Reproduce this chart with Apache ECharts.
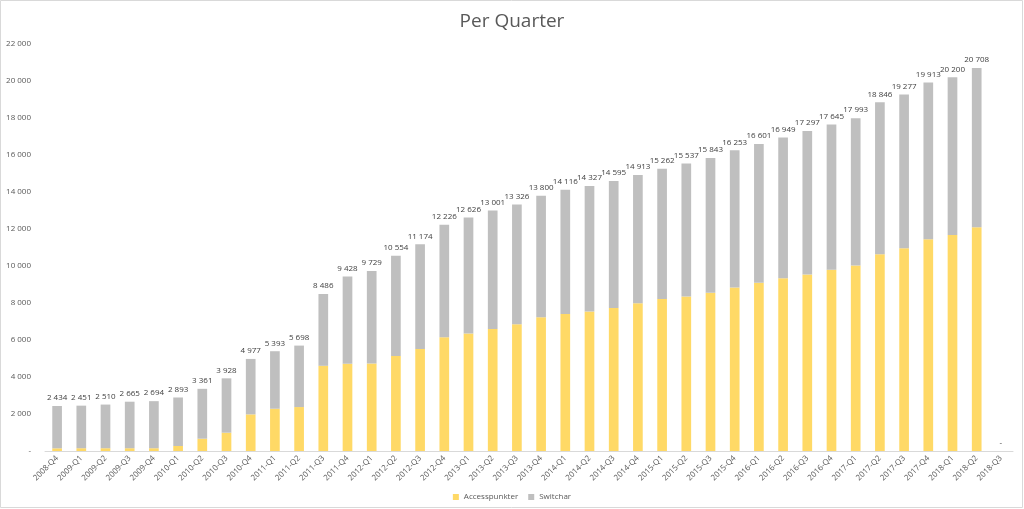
<!DOCTYPE html>
<html>
<head>
<meta charset="utf-8">
<script src="https://cdn.jsdelivr.net/npm/echarts@6/dist/echarts.min.js"></script>
<style>html,body{margin:0;padding:0;background:#fff;}#c{width:1024px;height:509px;}</style>
</head>
<body>
<div id="c"></div>
<script>
const categories = ['2008-Q4','2009-Q1','2009-Q2','2009-Q3','2009-Q4','2010-Q1','2010-Q2','2010-Q3','2010-Q4','2011-Q1','2011-Q2','2011-Q3','2011-Q4','2012-Q1','2012-Q2','2012-Q3','2012-Q4','2013-Q1','2013-Q2','2013-Q3','2013-Q4','2014-Q1','2014-Q2','2014-Q3','2014-Q4','2015-Q1','2015-Q2','2015-Q3','2015-Q4','2016-Q1','2016-Q2','2016-Q3','2016-Q4','2017-Q1','2017-Q2','2017-Q3','2017-Q4','2018-Q1','2018-Q2','2018-Q3'];
const accesspunkter = [145,150,150,150,150,270,665,990,1980,2285,2375,4605,4715,4730,5140,5515,6150,6345,6590,6845,7225,7400,7545,7725,7980,8210,8355,8555,8840,9095,9340,9540,9795,10025,10635,10960,11445,11680,12090,0];
const switchar = [2289,2301,2360,2515,2544,2623,2696,2938,2997,3108,3323,3881,4713,4999,5414,5659,6076,6281,6411,6481,6575,6716,6782,6870,6933,7052,7182,7288,7413,7506,7609,7757,7850,7968,8211,8317,8468,8520,8618,0];
const totals = [2434,2451,2510,2665,2694,2893,3361,3928,4977,5393,5698,8486,9428,9729,10554,11174,12226,12626,13001,13326,13800,14116,14327,14595,14913,15262,15537,15843,16253,16601,16949,17297,17645,17993,18846,19277,19913,20200,20708,0];

function fmt(v){
  if (v === 0) return '-';
  return String(v).replace(/\B(?=(\d{3})+(?!\d))/g, ' ');
}
const FONT = '"Open Sans", "Liberation Sans", sans-serif';
const chart = echarts.init(document.getElementById('c'));
chart.setOption({
  animation: false,
  backgroundColor: '#ffffff',
  title: {
    text: 'Per Quarter',
    left: 'center',
    top: 7,
    textStyle: {fontFamily: FONT, fontSize: 19, fontWeight: 'normal', color: '#595959'}
  },
  legend: {
    bottom: 3,
    left: 'center',
    itemWidth: 6,
    itemHeight: 6,
    itemGap: 10,
    icon: 'rect',
    textStyle: {fontFamily: FONT, fontSize: 8, color: '#595959'},
    data: ['Accesspunkter', 'Switchar']
  },
  graphic: [{
    type: 'rect',
    shape: {x: 0.5, y: 0.5, width: 1022, height: 507},
    style: {fill: 'none', stroke: '#d9d9d9', lineWidth: 1},
    silent: true
  }],
  grid: {left: 45, right: 11, top: 44, bottom: 58},
  xAxis: {
    type: 'category',
    data: categories,
    axisLine: {lineStyle: {color: '#d9d9d9'}},
    axisTick: {show: false},
    axisLabel: {rotate: 45, fontFamily: FONT, fontSize: 8, color: '#595959', margin: 6, interval: 0}
  },
  yAxis: {
    type: 'value',
    min: 0,
    max: 22000,
    interval: 2000,
    splitLine: {show: false},
    axisLine: {show: false},
    axisTick: {show: false},
    axisLabel: {fontFamily: FONT, fontSize: 8, color: '#595959', margin: 14, formatter: fmt}
  },
  series: [
    {
      name: 'Accesspunkter',
      type: 'bar',
      stack: 'total',
      barWidth: '40%',
      itemStyle: {color: '#FFD966'},
      data: accesspunkter
    },
    {
      name: 'Switchar',
      type: 'bar',
      stack: 'total',
      barWidth: '40%',
      itemStyle: {color: '#BFBFBF'},
      label: {
        show: true,
        position: 'top',
        distance: 4,
        fontFamily: FONT,
        fontSize: 8,
        color: '#404040',
        formatter: p => fmt(totals[p.dataIndex])
      },
      data: switchar
    }
  ]
});
</script>
</body>
</html>
